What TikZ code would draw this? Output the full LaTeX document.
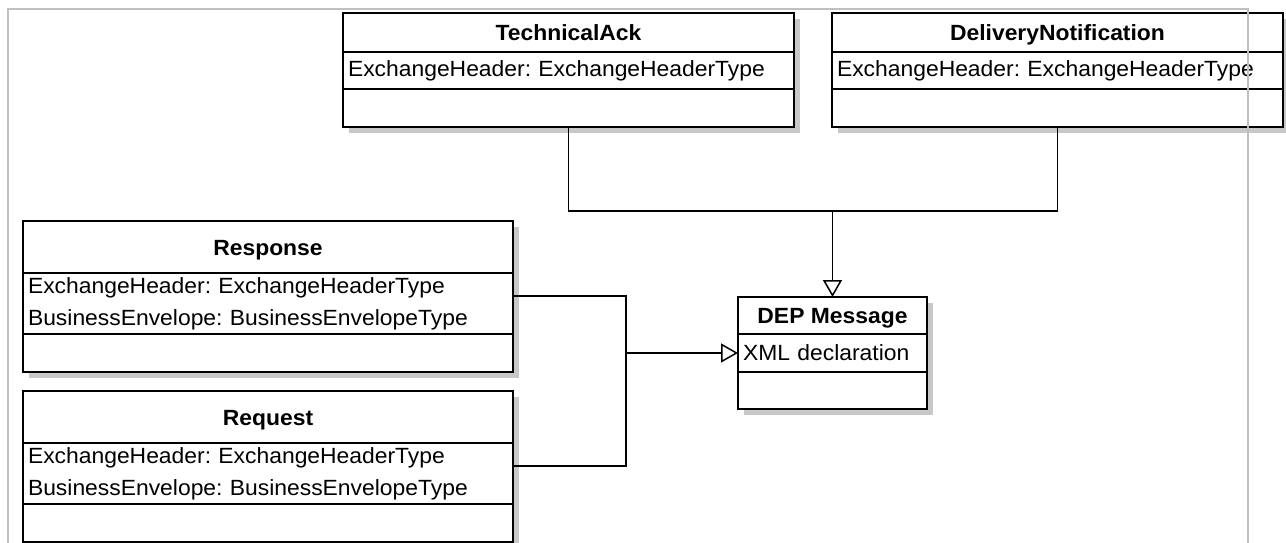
\documentclass[tikz,border=0pt]{standalone}
\usepackage{fontspec}
\setmainfont{Liberation Sans}[FakeStretch=1.04]
\frenchspacing
\usetikzlibrary{arrows.meta,backgrounds}
\definecolor{shadowgray}{RGB}{200,200,200}
\definecolor{framegray}{RGB}{192,192,192}

\begin{document}
\begin{tikzpicture}[x=1pt,y=-1pt]
\tikzstyle{compartment}=[draw,line width=1.5pt,fill=white,outer sep=0pt,inner sep=0pt,font=\fontsize{22}{32}\selectfont];
\tikzstyle{classname}=[compartment,font=\fontsize{22}{32}\selectfont\bfseries,text height=16pt,text depth=0pt];
\tikzstyle{members}=[compartment,align=left,inner xsep=5pt];
\tikzstyle{link}=[line width=1.5pt];
\tikzstyle{inherit}=[link,-{Triangle[open,length=17pt,width=19pt]}];
\useasboundingbox (0,0) rectangle (1286,543);

% top row
\node[classname,minimum width=451pt,minimum height=39pt,anchor=north west] (ack) at (343,13) {TechnicalAck};
\node[members,text width=441pt,minimum height=37pt,anchor=north] (ackattr) at (ack.south) {ExchangeHeader: ExchangeHeaderType};
\node[compartment,minimum width=451pt,minimum height=38pt,anchor=north] (ackops) at (ackattr.south) {};

\node[classname,minimum width=451pt,minimum height=39pt,anchor=north west] (dn) at (832,13) {DeliveryNotification};
\node[members,text width=441pt,minimum height=37pt,anchor=north] (dnattr) at (dn.south) {ExchangeHeader: ExchangeHeaderType};
\node[compartment,minimum width=451pt,minimum height=38pt,anchor=north] (dnops) at (dnattr.south) {};

% left column
\node[classname,minimum width=490pt,minimum height=52pt,anchor=north west] (resp) at (23,221) {Response};
\node[members,text width=480pt,minimum height=61pt,anchor=north] (respattr) at (resp.south) {ExchangeHeader: ExchangeHeaderType\\BusinessEnvelope: BusinessEnvelopeType};
\node[compartment,minimum width=490pt,minimum height=38pt,anchor=north] (respops) at (respattr.south) {};

\node[classname,minimum width=490pt,minimum height=52pt,anchor=north west] (req) at (23,391) {Request};
\node[members,text width=480pt,minimum height=61pt,anchor=north] (reqattr) at (req.south) {ExchangeHeader: ExchangeHeaderType\\BusinessEnvelope: BusinessEnvelopeType};
\node[compartment,minimum width=490pt,minimum height=38pt,anchor=north] (reqops) at (reqattr.south) {};

% base class
\node[classname,minimum width=189pt,minimum height=37pt,anchor=north west] (dep) at (738,297) {DEP Message};
\node[members,text width=179pt,minimum height=38pt,anchor=north] (depattr) at (dep.south) {XML declaration};
\node[compartment,minimum width=189pt,minimum height=37pt,anchor=north] (depops) at (depattr.south) {};

\begin{scope}[on background layer]
\foreach \cls in {ack,dn,resp,req,dep}
  \fill[shadowgray] ([shift={(6,6)}]\cls.north west) rectangle ([shift={(6,6)}]\cls ops.south east);
\end{scope}

% generalisations
\path (dep.north) ++(0,-86) coordinate (topjoin);
\draw[link] (ackops.south) |- (topjoin) -| (dnops.south);
\draw[inherit] (topjoin) -- (dep.north);

\path (depattr.west) ++(-112,0) coordinate (sidejoin);
\draw[link] ([yshift=7.5pt]respattr.east) -| (sidejoin);
\draw[link] ([yshift=7.5pt]reqattr.east) -| (sidejoin);
\draw[inherit] (sidejoin) -- (depattr.west);

% frame
\draw[framegray,line width=2pt] (8,543) |- (1248,9) -- (1248,543);
\end{tikzpicture}
\end{document}
